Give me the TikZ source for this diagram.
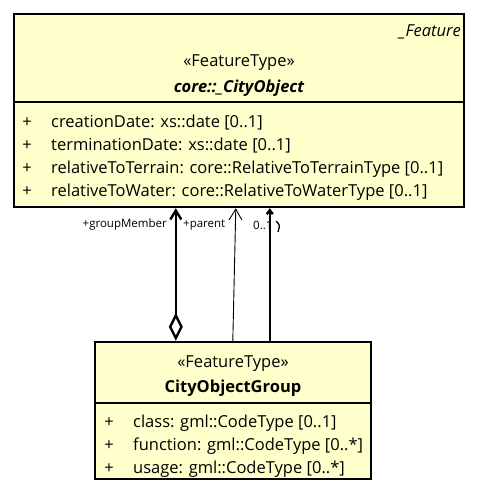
\documentclass[tikz,border=0pt]{standalone}
\usepackage{fontspec}
\setmainfont{Open Sans}
\usetikzlibrary{arrows.meta}
\definecolor{umlfill}{HTML}{FFFFCC}
\tikzset{
  umlbox/.style={draw, line width=2.4pt, fill=umlfill, inner sep=0pt},
  umltext/.style={inner sep=0pt, font=\fontsize{16.5}{19}\selectfont},
  rolelabel/.style={inner sep=0pt, font=\fontsize{11.5}{13}\selectfont},
}
\begin{document}
\begin{tikzpicture}[x=1pt, y=-1pt]
\useasboundingbox (0,0) rectangle (480,494);
% classe core::_CityObject
\node [umlbox, minimum width=450pt, minimum height=193pt](cityobj) at (239,110.5){};
\draw [line width=2.4pt]([yshift=-89pt]cityobj.north west) -- ([yshift=-89pt]cityobj.north east);
\node [umltext, anchor=east](ftag) at (461,32){\itshape \_Feature};
\node [umltext](stype1) at (239,63){«FeatureType»};
\node [umltext](cname1) at (239,88){\bfseries\itshape core::\_CityObject};
\node [umltext](p11) at (27,123){+};
\node [umltext, anchor=west](a11) at (51,123){creationDate: xs::date [0..1]};
\node [umltext](p12) at (27,146){+};
\node [umltext, anchor=west](a12) at (51,146){terminationDate: xs::date [0..1]};
\node [umltext](p13) at (27,169){+};
\node [umltext, anchor=west](a13) at (51,169){relativeToTerrain: core::RelativeToTerrainType [0..1]};
\node [umltext](p14) at (27,192){+};
\node [umltext, anchor=west](a14) at (51,192){relativeToWater: core::RelativeToWaterType [0..1]};

% classe CityObjectGroup
\node [umlbox, minimum width=276pt, minimum height=137pt](grp) at (233,410.5){};
\draw [line width=2.4pt]([yshift=-62pt]grp.north west) -- ([yshift=-62pt]grp.north east);
\node [umltext](stype2) at (233,364){«FeatureType»};
\node [umltext](cname2) at (233,388){\bfseries CityObjectGroup};
\node [umltext](p21) at (109,423){+};
\node [umltext, anchor=west](a21) at (133,423){class: gml::CodeType [0..1]};
\node [umltext](p22) at (109,446){+};
\node [umltext, anchor=west](a22) at (133,446){function: gml::CodeType [0..*]};
\node [umltext](p23) at (109,469){+};
\node [umltext, anchor=west](a23) at (133,469){usage: gml::CodeType [0..*]};

% associacoes
\draw [line width=2.4pt, {Diamond[open, length=28pt, width=14pt]}-{Straight Barb[length=9pt, width=11pt]}]([xshift=82pt]grp.north west) -- ([xshift=163pt]cityobj.south west);
\draw [line width=0.9pt, -{Straight Barb[length=11pt, width=13pt]}]([xshift=139pt]grp.north west) -- ([xshift=223pt]cityobj.south west);
\draw [line width=2.4pt, -{Straight Barb[length=4pt, width=6pt]}]([xshift=176pt]grp.north west) -- ([xshift=257pt]cityobj.south west);
\node [rolelabel, anchor=east](rgm) at (167,225){+groupMember};
\node [rolelabel, anchor=west](rpar) at (183,225){+parent};
\node [rolelabel, anchor=west](rmul) at (253,225){0..1};
\draw [line width=1.3pt](276,221) .. controls (280,225) .. (278,232);
\end{tikzpicture}
\end{document}
